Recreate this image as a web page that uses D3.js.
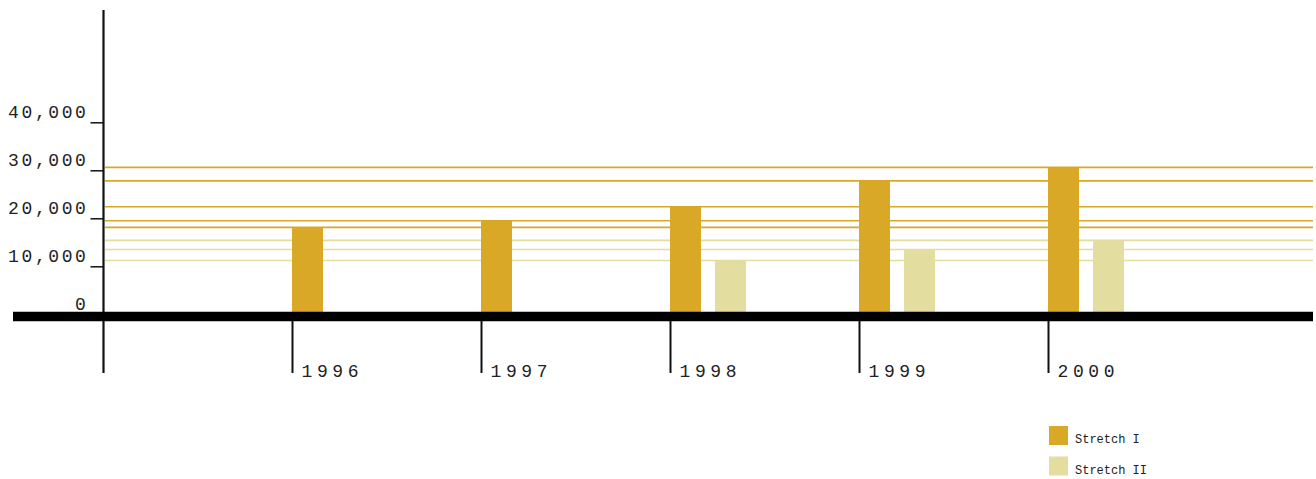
<!DOCTYPE html>
<html>
<head>
<meta charset="utf-8">
<script src="https://cdn.jsdelivr.net/npm/d3@7"></script>
<style>
  html, body { margin: 0; padding: 0; background: #fff; }
  svg { display: block; }
</style>
</head>
<body>
<svg id="chart" width="1316" height="479"></svg>
<script>
// Chart data
const years = ["1996", "1997", "1998", "1999", "2000"];
const stretchI = [18100, 19500, 22400, 27800, 30600];
const stretchII = [null, null, 11200, 13500, 15400];
const seriesNames = ["Stretch I", "Stretch II"];
const yTicks = [0, 10000, 20000, 30000, 40000];

const colors = ["#d8a826", "#e3de9f"];
const svg = d3.select("#chart");

const y = d3.scaleLinear().domain([0, 40000]).range([314.3, 122.3]);
const x = d3.scaleBand().domain(years).range([292, 292 + 189 * years.length]).padding(0);
const barW = 31, barGap = 45;

// Horizontal reference lines at every bar value
const refLines = [];
stretchI.forEach(v => { if (v != null) refLines.push({ v, c: colors[0] }); });
stretchII.forEach(v => { if (v != null) refLines.push({ v, c: colors[1] }); });
svg.append("g").selectAll("line").data(refLines).join("line")
  .attr("x1", 105).attr("x2", 1313)
  .attr("y1", d => y(d.v)).attr("y2", d => y(d.v))
  .attr("stroke", d => d.c).attr("stroke-width", 1.6);

// Bars
const barsG = svg.append("g");
[stretchI, stretchII].forEach((series, si) => {
  barsG.append("g").selectAll("rect")
    .data(years.map((yr, i) => ({ yr, v: series[i] })).filter(d => d.v != null))
    .join("rect")
    .attr("x", d => x(d.yr) + si * barGap)
    .attr("width", barW)
    .attr("y", d => y(d.v))
    .attr("height", d => y(0) - y(d.v))
    .attr("fill", colors[si]);
});

// Vertical axis
const yAxis = d3.axisLeft(y).tickValues(yTicks).tickSize(13).tickPadding(2)
  .tickFormat(d3.format(","));
const yg = svg.append("g").attr("transform", "translate(103.5,0)").call(yAxis);
yg.select(".domain").remove();
yg.selectAll(".tick line").attr("stroke", "#111").attr("stroke-width", 1.5);
yg.selectAll(".tick text")
  .attr("x", -15).attr("dy", "-0.25em")
  .attr("font-family", "'Liberation Mono', monospace")
  .attr("font-size", 18).attr("letter-spacing", 2.6)
  .attr("fill", "#222");
svg.append("line").attr("x1", 103.5).attr("x2", 103.5).attr("y1", 10).attr("y2", 373)
  .attr("stroke", "#111").attr("stroke-width", 2.2);

// Horizontal axis: thick baseline plus category ticks
svg.append("line").attr("x1", 13).attr("x2", 1313).attr("y1", 316.4).attr("y2", 316.4)
  .attr("stroke", "#000").attr("stroke-width", 9.5);
const xAxis = d3.axisBottom(x).tickSize(52).tickPadding(0);
const xg = svg.append("g").attr("transform", "translate(0,321)").call(xAxis);
xg.select(".domain").remove();
xg.selectAll(".tick").attr("transform", d => `translate(${x(d) + 0.5},0)`);
xg.selectAll(".tick line").attr("stroke", "#111").attr("stroke-width", 2);
xg.selectAll(".tick text")
  .attr("text-anchor", "start").attr("x", 9).attr("y", 56).attr("dy", 0)
  .attr("font-family", "'Liberation Mono', monospace")
  .attr("font-size", 18).attr("letter-spacing", 4.6)
  .attr("fill", "#222");

// Legend
const lg = svg.append("g").attr("transform", "translate(1049,426)");
const items = lg.selectAll("g").data(seriesNames).join("g")
  .attr("transform", (d, i) => `translate(0,${i * 30.5})`);
items.append("rect").attr("width", 19).attr("height", 19).attr("fill", (d, i) => colors[i]);
items.append("text").attr("x", 26).attr("y", 17)
  .attr("font-family", "'Liberation Mono', monospace")
  .attr("font-size", 12).attr("fill", "#222")
  .text(d => d);
</script>
</body>
</html>
